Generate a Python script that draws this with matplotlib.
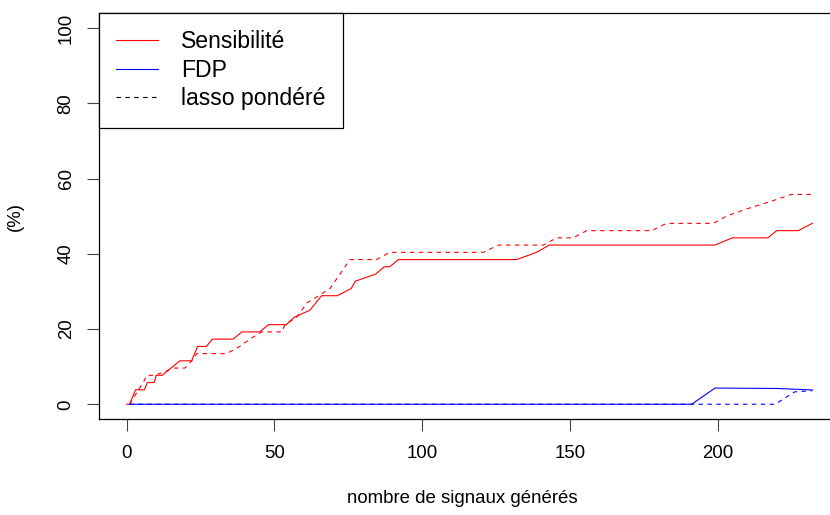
import matplotlib
matplotlib.use("Agg")
import matplotlib.pyplot as plt

plt.rcParams["font.family"] = ["Liberation Sans", "DejaVu Sans"]

# Sensibilité (trait plein rouge)
sens_x = [0, 1, 3, 6, 7, 9.3, 10, 12, 18, 22, 24, 27, 29, 36, 39, 45, 48, 54,
          56.6, 62, 66, 71.3, 76, 77.3, 84.3, 87.2, 89, 92, 132, 138.7, 143,
          199, 205, 217, 220, 227.3, 232]
sens_y = [0, 0, 3.85, 3.85, 5.77, 5.77, 7.69, 7.69, 11.54, 11.54, 15.38, 15.38,
          17.31, 17.31, 19.23, 19.23, 21.15, 21.15, 23.08, 25.0, 28.85, 28.85,
          30.77, 32.69, 34.62, 36.54, 36.54, 38.46, 38.46, 40.38, 42.31,
          42.31, 44.23, 44.23, 46.15, 46.15, 48.08]

# Sensibilité lasso pondéré (pointillés rouges)
sens_lp_x = [1, 4, 5.6, 6.8, 9.6, 15.8, 19.7, 22, 23.7, 33.8, 38.3, 41.7, 45.7,
             52.5, 53.6, 57.5, 61, 65, 68.8, 75.6, 84.6, 89, 120.7, 125.8, 141,
             145.5, 151, 155.7, 177.7, 182.7, 198.5, 203, 209.8, 217.7, 225,
             232.9]
sens_lp_y = [0, 3.85, 5.77, 7.69, 7.69, 9.62, 9.62, 11.54, 13.46, 13.46, 15.38,
             17.31, 19.23, 19.23, 21.15, 23.08, 26.92, 28.85, 30.77, 38.46,
             38.46, 40.38, 40.38, 42.31, 42.31, 44.23, 44.23, 46.15, 46.15,
             48.08, 48.08, 50.0, 51.92, 53.85, 55.77, 55.77]

# FDP (trait plein bleu)
fdp_x = [1, 191.2, 199.1, 220, 232]
fdp_y = [0, 0, 4.3, 4.2, 3.8]

# FDP lasso pondéré (pointillés bleus)
fdp_lp_x = [1, 219.4, 226.1, 232]
fdp_lp_y = [0, 0, 3.3, 3.6]

x_ticks = [0, 50, 100, 150, 200]
y_ticks = [0, 20, 40, 60, 80, 100]

dash = (0, (4, 4))
lw = 0.8

fig = plt.figure(figsize=(8.3, 5.15), dpi=100)
ax = fig.add_axes([99 / 830, 95.7 / 515, 740.7 / 830, 406.3 / 515])

ax.plot(sens_x, sens_y, color="red", lw=lw)
ax.plot(sens_lp_x, sens_lp_y, color="red", lw=lw, linestyle=dash)
ax.plot(fdp_x, fdp_y, color="blue", lw=lw)
ax.plot(fdp_lp_x, fdp_lp_y, color="blue", lw=lw, linestyle=dash)

ax.set_xlim(-9.37, 241.3)
ax.set_ylim(-4, 104)
ax.set_xticks(x_ticks)
ax.set_yticks(y_ticks)
ax.set_yticklabels([str(v) for v in y_ticks], rotation=90, va="center")
ax.tick_params(axis="both", direction="out", length=8.5, width=0.8,
               labelsize=13.4, color="#444444")
ax.tick_params(axis="x", pad=10)
ax.tick_params(axis="y", pad=9)
for sp in ax.spines.values():
    sp.set_linewidth(0.9)

ax.set_xlabel("nombre de signaux générés", fontsize=13.4, labelpad=21)
ax.xaxis.set_label_coords(0.49, -0.175)
ax.set_ylabel("(%)", fontsize=13.4, labelpad=24)

h1, = ax.plot([], [], color="red", lw=lw)
h2, = ax.plot([], [], color="blue", lw=lw)
h3, = ax.plot([], [], color="black", lw=lw, linestyle=dash)
leg = ax.legend([h1, h2, h3], ["Sensibilité", "FDP", "lasso pondéré"],
                loc="upper left", bbox_to_anchor=(0, 1), borderaxespad=0,
                fancybox=False, framealpha=1, edgecolor="black",
                fontsize=16.6, handlelength=1.8, handletextpad=1.0,
                borderpad=0.75, labelspacing=0.24)
leg.get_frame().set_linewidth(0.9)

fig.savefig("out.png", dpi=100)
